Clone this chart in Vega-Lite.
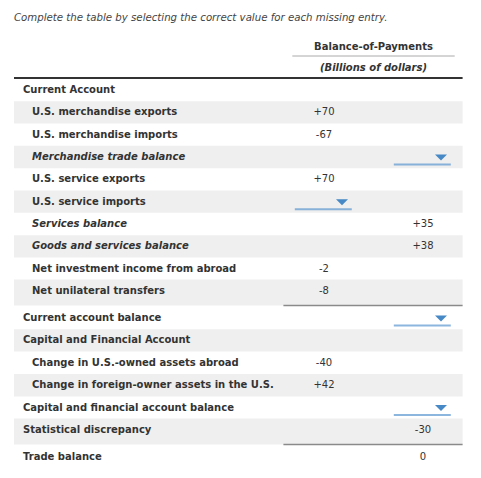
{
  "$schema": "https://vega.github.io/schema/vega-lite/v6.json",
  "width": 481,
  "height": 478,
  "autosize": "none",
  "padding": 0,
  "background": "white",
  "config": {"view": {"stroke": null}, "font": "DejaVu Sans", "scale": {"continuousPadding": 0}},
  "datasets": {
    "table": [
      {"row": 0, "label": "Current Account", "level": 0, "kind": "section", "detail": "", "total": "", "missing": "", "lineBelow": false},
      {"row": 1, "label": "U.S. merchandise exports", "level": 1, "kind": "item", "detail": "+70", "total": "", "missing": "", "lineBelow": false},
      {"row": 2, "label": "U.S. merchandise imports", "level": 1, "kind": "item", "detail": "-67", "total": "", "missing": "", "lineBelow": false},
      {"row": 3, "label": "Merchandise trade balance", "level": 1, "kind": "subtotal", "detail": "", "total": "", "missing": "total", "lineBelow": false},
      {"row": 4, "label": "U.S. service exports", "level": 1, "kind": "item", "detail": "+70", "total": "", "missing": "", "lineBelow": false},
      {"row": 5, "label": "U.S. service imports", "level": 1, "kind": "item", "detail": "", "total": "", "missing": "detail", "lineBelow": false},
      {"row": 6, "label": "Services balance", "level": 1, "kind": "subtotal", "detail": "", "total": "+35", "missing": "", "lineBelow": false},
      {"row": 7, "label": "Goods and services balance", "level": 1, "kind": "subtotal", "detail": "", "total": "+38", "missing": "", "lineBelow": false},
      {"row": 8, "label": "Net investment income from abroad", "level": 1, "kind": "item", "detail": "-2", "total": "", "missing": "", "lineBelow": false},
      {"row": 9, "label": "Net unilateral transfers", "level": 1, "kind": "item", "detail": "-8", "total": "", "missing": "", "lineBelow": true},
      {"row": 10, "label": "Current account balance", "level": 0, "kind": "balance", "detail": "", "total": "", "missing": "total", "lineBelow": false},
      {"row": 11, "label": "Capital and Financial Account", "level": 0, "kind": "section", "detail": "", "total": "", "missing": "", "lineBelow": false},
      {"row": 12, "label": "Change in U.S.-owned assets abroad", "level": 1, "kind": "item", "detail": "-40", "total": "", "missing": "", "lineBelow": false},
      {"row": 13, "label": "Change in foreign-owner assets in the U.S.", "level": 1, "kind": "item", "detail": "+42", "total": "", "missing": "", "lineBelow": false},
      {"row": 14, "label": "Capital and financial account balance", "level": 0, "kind": "balance", "detail": "", "total": "", "missing": "total", "lineBelow": false},
      {"row": 15, "label": "Statistical discrepancy", "level": 0, "kind": "balance", "detail": "", "total": "-30", "missing": "", "lineBelow": true},
      {"row": 16, "label": "Trade balance", "level": 0, "kind": "balance", "detail": "", "total": "0", "missing": "", "lineBelow": false}
    ],
    "header": [
      {"row": -2, "text": "Balance-of-Payments", "italic": false},
      {"row": -1, "text": "(Billions of dollars)", "italic": true}
    ],
    "caption": [
      {"row": -3, "text": "Complete the table by selecting the correct value for each missing entry."}
    ]
  },
  "layer": [
    {
      "data": {"name": "table"},
      "transform": [{"filter": "datum.row % 2 == 1 && !datum.lineBelow"}],
      "mark": {"type": "bar", "orient": "horizontal", "size": 22.4, "color": "#efefef"},
      "encoding": {
        "y": {"field": "row", "type": "quantitative", "axis": null, "scale": {"type": "linear", "domain": [-3, -2, -1, 0, 9, 10, 15, 16], "range": [18, 47, 68, 90, 291, 318, 430, 457], "zero": false, "nice": false, "padding": 0}},
        "x": {"datum": 0, "type": "quantitative", "axis": null, "scale": {"type": "linear", "domain": [0, 1, 3], "range": [14, 274.5, 472.5], "zero": false, "nice": false, "padding": 0}},
        "x2": {"datum": 2.9}
      }
    },
    {
      "data": {"name": "table"},
      "transform": [{"filter": "datum.row % 2 == 1 && datum.lineBelow"}],
      "mark": {"type": "bar", "orient": "horizontal", "size": 26, "yOffset": 1.5, "color": "#efefef"},
      "encoding": {
        "y": {"field": "row", "type": "quantitative"},
        "x": {"datum": 0, "type": "quantitative"},
        "x2": {"datum": 2.9}
      }
    },
    {
      "data": {"name": "table"},
      "transform": [{"filter": "datum.lineBelow"}],
      "mark": {"type": "rule", "yOffset": 14.5, "color": "#8a8a8a", "strokeWidth": 1.5},
      "encoding": {
        "y": {"field": "row", "type": "quantitative"},
        "x": {"datum": 1.09, "type": "quantitative"},
        "x2": {"datum": 2.9}
      }
    },
    {
      "data": {"name": "caption"},
      "mark": {"type": "text", "align": "left", "baseline": "middle", "fontStyle": "italic", "fontSize": 10.2, "color": "#444444"},
      "encoding": {
        "y": {"field": "row", "type": "quantitative"},
        "x": {"datum": 0, "type": "quantitative"},
        "text": {"field": "text"}
      }
    },
    {
      "data": {"name": "header"},
      "transform": [{"filter": "!datum.italic"}],
      "mark": {"type": "text", "align": "center", "baseline": "middle", "fontWeight": "bold", "fontSize": 10, "color": "#333333"},
      "encoding": {
        "y": {"field": "row", "type": "quantitative"},
        "x": {"datum": 2, "type": "quantitative"},
        "text": {"field": "text"}
      }
    },
    {
      "data": {"name": "header"},
      "transform": [{"filter": "datum.italic"}],
      "mark": {"type": "text", "align": "center", "baseline": "middle", "fontWeight": "bold", "fontStyle": "italic", "fontSize": 10, "color": "#333333"},
      "encoding": {
        "y": {"field": "row", "type": "quantitative"},
        "x": {"datum": 2, "type": "quantitative"},
        "text": {"field": "text"}
      }
    },
    {
      "data": {"name": "header"},
      "transform": [{"filter": "!datum.italic"}],
      "mark": {"type": "rule", "yOffset": 9, "color": "#aaaaaa", "strokeWidth": 1},
      "encoding": {
        "y": {"field": "row", "type": "quantitative"},
        "x": {"datum": 1.18, "type": "quantitative"},
        "x2": {"datum": 2.82}
      }
    },
    {
      "data": {"name": "header"},
      "transform": [{"filter": "datum.italic"}],
      "mark": {"type": "rule", "yOffset": 10, "color": "#333333", "strokeWidth": 2},
      "encoding": {
        "y": {"field": "row", "type": "quantitative"},
        "x": {"datum": 0, "type": "quantitative"},
        "x2": {"datum": 2.9}
      }
    },
    {
      "data": {"name": "table"},
      "transform": [{"filter": "datum.level == 0"}],
      "mark": {"type": "text", "align": "left", "baseline": "middle", "dx": 9, "fontWeight": "bold", "fontSize": 10, "color": "#333333"},
      "encoding": {
        "y": {"field": "row", "type": "quantitative"},
        "x": {"datum": 0, "type": "quantitative"},
        "text": {"field": "label"}
      }
    },
    {
      "data": {"name": "table"},
      "transform": [{"filter": "datum.level == 1 && datum.kind != 'subtotal'"}],
      "mark": {"type": "text", "align": "left", "baseline": "middle", "dx": 18, "fontWeight": "bold", "fontSize": 10, "color": "#333333"},
      "encoding": {
        "y": {"field": "row", "type": "quantitative"},
        "x": {"datum": 0, "type": "quantitative"},
        "text": {"field": "label"}
      }
    },
    {
      "data": {"name": "table"},
      "transform": [{"filter": "datum.kind == 'subtotal'"}],
      "mark": {"type": "text", "align": "left", "baseline": "middle", "dx": 18, "fontWeight": "bold", "fontStyle": "italic", "fontSize": 10, "color": "#333333"},
      "encoding": {
        "y": {"field": "row", "type": "quantitative"},
        "x": {"datum": 0, "type": "quantitative"},
        "text": {"field": "label"}
      }
    },
    {
      "data": {"name": "table"},
      "transform": [{"filter": "datum.detail != ''"}],
      "mark": {"type": "text", "align": "center", "baseline": "middle", "fontSize": 10, "color": "#333333"},
      "encoding": {
        "y": {"field": "row", "type": "quantitative"},
        "x": {"datum": 1.5, "type": "quantitative"},
        "text": {"field": "detail"}
      }
    },
    {
      "data": {"name": "table"},
      "transform": [{"filter": "datum.total != ''"}],
      "mark": {"type": "text", "align": "center", "baseline": "middle", "fontSize": 10, "color": "#333333"},
      "encoding": {
        "y": {"field": "row", "type": "quantitative"},
        "x": {"datum": 2.5, "type": "quantitative"},
        "text": {"field": "total"}
      }
    },
    {
      "data": {"name": "table"},
      "transform": [{"filter": "datum.missing == 'detail'"}],
      "mark": {"type": "tick", "orient": "horizontal", "size": 57, "thickness": 2, "yOffset": 7.5, "xOffset": -0.7, "color": "#5b97d0"},
      "encoding": {
        "y": {"field": "row", "type": "quantitative"},
        "x": {"datum": 1.5, "type": "quantitative"}
      }
    },
    {
      "data": {"name": "table"},
      "transform": [{"filter": "datum.missing == 'total'"}],
      "mark": {"type": "tick", "orient": "horizontal", "size": 57, "thickness": 2, "yOffset": 7.5, "xOffset": -0.7, "color": "#5b97d0"},
      "encoding": {
        "y": {"field": "row", "type": "quantitative"},
        "x": {"datum": 2.5, "type": "quantitative"}
      }
    },
    {
      "data": {"name": "table"},
      "transform": [{"filter": "datum.missing == 'detail'"}],
      "mark": {"type": "point", "shape": "M-1,-0.5L1,-0.5L0,0.5Z", "size": 144, "filled": true, "opacity": 1, "xOffset": 18, "yOffset": 0.5, "strokeWidth": 0, "color": "#4689c6"},
      "encoding": {
        "y": {"field": "row", "type": "quantitative"},
        "x": {"datum": 1.5, "type": "quantitative"}
      }
    },
    {
      "data": {"name": "table"},
      "transform": [{"filter": "datum.missing == 'total'"}],
      "mark": {"type": "point", "shape": "M-1,-0.5L1,-0.5L0,0.5Z", "size": 144, "filled": true, "opacity": 1, "xOffset": 18, "yOffset": 0.5, "strokeWidth": 0, "color": "#4689c6"},
      "encoding": {
        "y": {"field": "row", "type": "quantitative"},
        "x": {"datum": 2.5, "type": "quantitative"}
      }
    }
  ]
}
